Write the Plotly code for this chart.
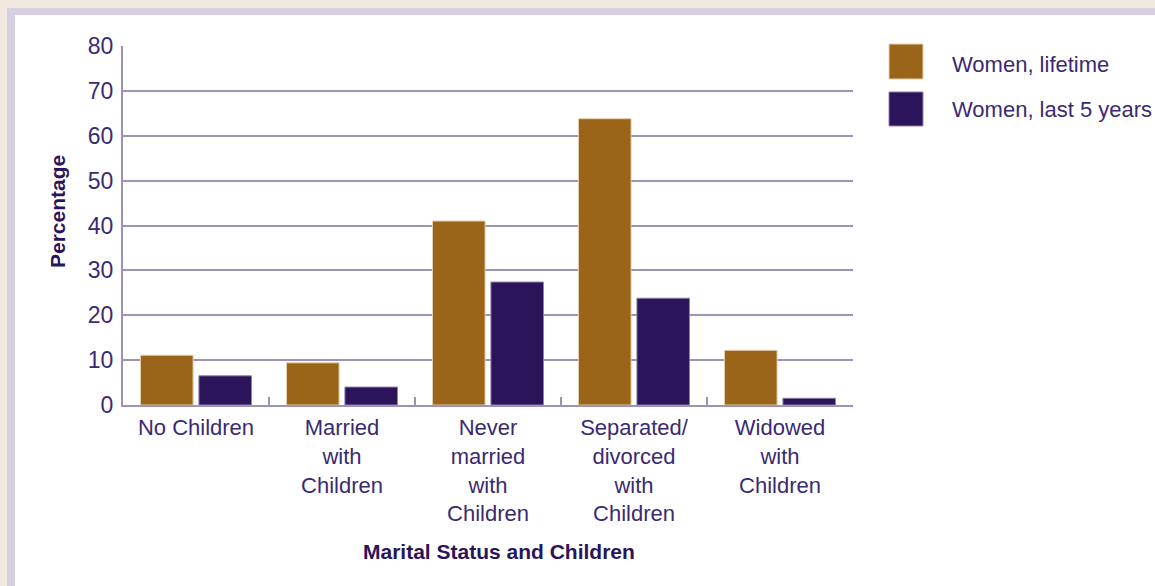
import plotly.graph_objects as go

categories = ["No Children", "Married<br>with<br>Children", "Never<br>married<br>with<br>Children",
              "Separated/<br>divorced<br>with<br>Children", "Widowed<br>with<br>Children"]
lifetime = [11.1, 9.4, 41.0, 63.8, 12.2]
last5 = [6.5, 4.0, 27.4, 23.8, 1.5]
series_names = ["Women, lifetime", "Women, last 5 years"]
y_ticks = [0, 10, 20, 30, 40, 50, 60, 70, 80]

BROWN = "#9a6419"
PURPLE = "#2b1459"
GRID = "#9d92b8"
TXT = "#3b2a72"
FONT = "Liberation Sans, Arial, sans-serif"
NARROW = "Liberation Sans Narrow, Arial Narrow, Liberation Sans, sans-serif"

W, H = 1155, 586
L, R, T, B = 123, 853, 46, 405

def px(x):
    return (x - L) / (R - L)

def py(y):
    return (B - y) / (B - T)

fig = go.Figure()
fig.add_trace(go.Bar(x=categories, y=lifetime, name=series_names[0],
                     marker=dict(color=BROWN, line=dict(color="#e6cfae", width=1)), showlegend=False))
fig.add_trace(go.Bar(x=categories, y=last5, name=series_names[1],
                     marker=dict(color=PURPLE, line=dict(color="#8e80b0", width=1)), showlegend=False))

shapes = [
    dict(type="rect", xref="paper", yref="paper", x0=px(7), x1=px(1170), y0=py(600), y1=py(8),
         fillcolor="#d5d1e3", line=dict(width=0), layer="below"),
    dict(type="rect", xref="paper", yref="paper", x0=px(15), x1=px(1170), y0=py(600), y1=py(15),
         fillcolor="white", line=dict(width=0), layer="below"),
    # legend swatches
    dict(type="rect", xref="paper", yref="paper", x0=px(889), x1=px(923), y0=py(79), y1=py(44),
         fillcolor=BROWN, line=dict(color="#e6cfae", width=1)),
    dict(type="rect", xref="paper", yref="paper", x0=px(889), x1=px(923), y0=py(126), y1=py(92),
         fillcolor=PURPLE, line=dict(color="#8e80b0", width=1)),
]

annotations = [
    dict(text=series_names[0], xref="paper", yref="paper", x=px(950), y=py(64), xanchor="left",
         yanchor="middle", showarrow=False, font=dict(family=FONT, size=22, color=TXT)),
    dict(text=series_names[1], xref="paper", yref="paper", x=px(950), y=py(109), xanchor="left",
         yanchor="middle", showarrow=False, font=dict(family=FONT, size=22, color=TXT)),
    dict(text="<b>Marital Status and Children</b>", xref="paper", yref="paper", x=px(499), y=py(551),
         xanchor="center", yanchor="middle", showarrow=False, font=dict(family=NARROW, size=21, color=PURPLE)),
    dict(text="<b>Percentage</b>", xref="paper", yref="paper", x=px(57), y=py(212), textangle=-90,
         xanchor="center", yanchor="middle", showarrow=False, font=dict(family=NARROW, size=21, color=PURPLE)),
]

fig.update_layout(
    width=W, height=H,
    margin=dict(l=L, r=W - R, t=T, b=H - B),
    paper_bgcolor="#f1e9df",
    plot_bgcolor="white",
    barmode="group", bargap=0.2, bargroupgap=0.1,
    shapes=shapes, annotations=annotations,
    font=dict(family=FONT, size=22, color=TXT),
    showlegend=False,
    xaxis=dict(showline=True, linecolor=GRID, linewidth=2, ticks="inside", tickson="boundaries",
               ticklen=8, tickwidth=2, tickcolor=GRID, showgrid=False, ticklabelstandoff=2,
               tickfont=dict(family=FONT, size=22, color=TXT), mirror=False),
    yaxis=dict(range=[0, 80], tickvals=y_ticks, showgrid=True, gridcolor=GRID, gridwidth=2,
               showline=True, linecolor=GRID, linewidth=2, zeroline=False, ticks="",
               ticklabelstandoff=3, tickfont=dict(family=FONT, size=23, color=TXT)),
)

fig.write_html("out.html", config={"displayModeBar": False},
               post_script="document.body.style.margin='0';document.body.style.padding='0';document.body.style.overflow='hidden';")
